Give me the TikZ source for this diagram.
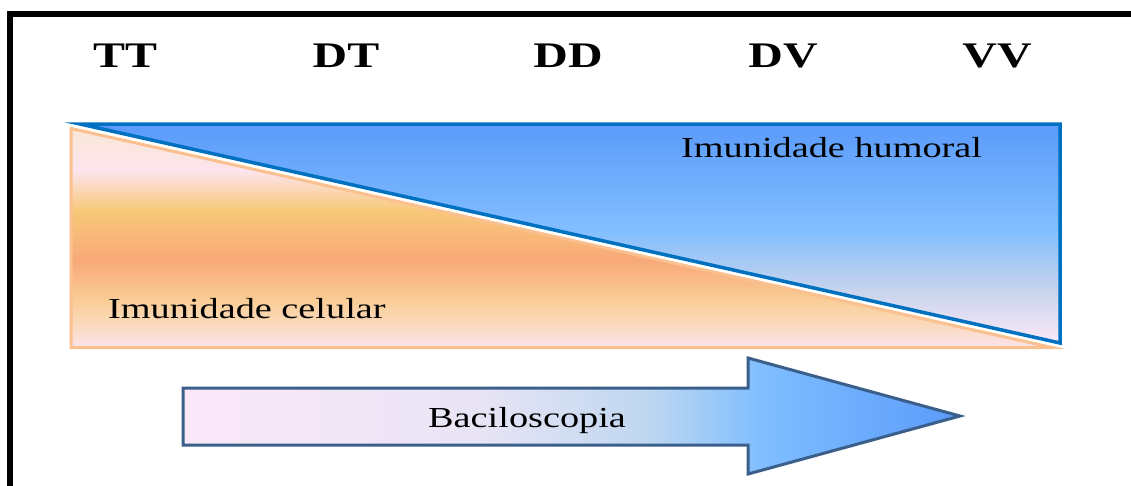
\documentclass[tikz,border=0pt]{standalone}
\usepackage{fontspec}
\setmainfont{Liberation Serif}
\usepackage{graphicx}
% colours
\definecolor{frameblack}{RGB}{0,0,0}
\definecolor{humoralline}{RGB}{0,112,192}
\definecolor{celularline}{RGB}{250,192,144}
\definecolor{arrowline}{RGB}{58,95,139}
\definecolor{bTop}{RGB}{90,155,250}
\definecolor{bMid}{RGB}{130,190,255}
\definecolor{bLow}{RGB}{200,212,236}
\definecolor{bBot}{RGB}{252,232,248}
\definecolor{oA}{RGB}{252,228,236}
\definecolor{oB}{RGB}{250,215,180}
\definecolor{oC}{RGB}{250,205,150}
\definecolor{oD}{RGB}{248,168,120}
\definecolor{oE}{RGB}{248,200,120}
\definecolor{oF}{RGB}{252,228,236}
\definecolor{oG}{RGB}{250,232,215}
\definecolor{aA}{RGB}{250,232,248}
\definecolor{aB}{RGB}{232,228,245}
\definecolor{aC}{RGB}{190,215,240}
\definecolor{aD}{RGB}{128,190,255}
\definecolor{aE}{RGB}{90,155,250}
\pgfdeclareverticalshading{humoralshade}{100bp}{color(0bp)=(bBot); color(25bp)=(bBot); color(37bp)=(bLow); color(50.7bp)=(bMid); color(75bp)=(bTop); color(100bp)=(bTop)}
\pgfdeclareverticalshading{celularshade}{100bp}{color(0bp)=(oA); color(25bp)=(oA); color(31.3bp)=(oB); color(35.9bp)=(oC); color(44.9bp)=(oD); color(56.2bp)=(oE); color(65.3bp)=(oF); color(75bp)=(oG); color(100bp)=(oG)}
\pgfdeclarehorizontalshading{bacishade}{100bp}{color(0bp)=(aA); color(25bp)=(aA); color(44.2bp)=(aB); color(55bp)=(aC); color(62.1bp)=(aD); color(75bp)=(aE); color(100bp)=(aE)}
\newcommand{\headtext}[1]{\fontsize{36}{40}\selectfont\bfseries\scalebox{1.33}[1]{#1}}
\newcommand{\bodytext}[1]{\fontsize{29}{34}\selectfont\scalebox{1.32}[1]{#1}}
\begin{document}
\begin{tikzpicture}[x=1pt,y=-1pt,
  headlabel/.style={anchor=base,inner sep=0pt},
  bodylabel/.style={anchor=base west,inner sep=0pt},
  celulartri/.style={draw=celularline,line width=3pt,line join=miter,shading=celularshade},
  humoraltri/.style={draw=humoralline,line width=3.5pt,line join=miter,shading=humoralshade},
  baciarrow/.style={draw=arrowline,line width=3pt,line join=miter,shading=bacishade}]
\useasboundingbox (0,0) rectangle (1131,485);
\fill[white] (0,0) rectangle (1131,485);
% frame (left and top edges)
\draw[frameblack,line width=6pt,line join=miter] (10,490) -- (10,13.5) -- (1131,13.5);
% headers
\node[headlabel] (tt) at (125,67) {\headtext{TT}};
\node[headlabel] (dt) at (346,67) {\headtext{DT}};
\node[headlabel] (dd) at (568,67) {\headtext{DD}};
\node[headlabel] (dv) at (783,67) {\headtext{DV}};
\node[headlabel] (vv) at (997,67) {\headtext{VV}};
% triangles
\shadedraw[celulartri] (71,128.5) -- (1052,347.5) -- (71,347.5) -- cycle;
\shadedraw[humoraltri] (80,124) -- (1060,124) -- (1060,343) -- cycle;
% arrow
\shadedraw[baciarrow] (183,388) -- (748,388) -- (748,358) -- (960,416) -- (748,474) -- (748,445) -- (183,445) -- cycle;
% labels
\node[bodylabel] (humoral) at (681,157) {\bodytext{Imunidade humoral}};
\node[bodylabel] (celular) at (108,318) {\bodytext{Imunidade celular}};
\node[bodylabel] (baci) at (428,427) {\bodytext{Baciloscopia}};
\end{tikzpicture}
\end{document}
